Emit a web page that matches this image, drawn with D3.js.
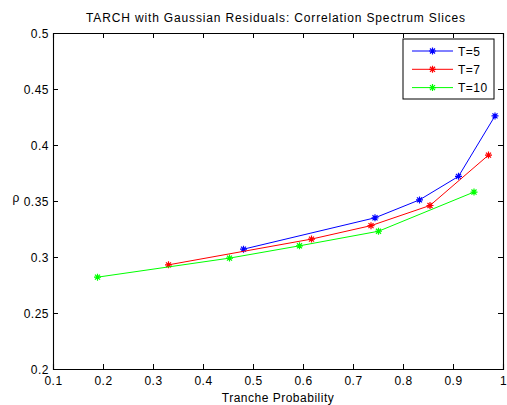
<!DOCTYPE html>
<html>
<head>
<meta charset="utf-8">
<script src="https://cdn.jsdelivr.net/npm/d3@7"></script>
<style>
  body { margin: 0; background: #fff; }
  text { font-family: "Liberation Sans", Arial, sans-serif; }
</style>
</head>
<body>
<div id="chart"></div>
<script>
// Data
var seriesNames = ['T=5', 'T=7', 'T=10'];
var seriesColors = ['#0000ff', '#ff0000', '#00ff00'];
var probT5 = [0.481, 0.744, 0.833, 0.911, 0.984];
var rhoT5 = [0.307, 0.335, 0.351, 0.372, 0.426];
var probT7 = [0.331, 0.617, 0.736, 0.854, 0.971];
var rhoT7 = [0.293, 0.316, 0.328, 0.346, 0.391];
var probT10 = [0.189, 0.453, 0.593, 0.751, 0.942];
var rhoT10 = [0.282, 0.299, 0.310, 0.323, 0.358];
var xTicks = [0.1, 0.2, 0.3, 0.4, 0.5, 0.6, 0.7, 0.8, 0.9, 1];
var yTicks = [0.2, 0.25, 0.3, 0.35, 0.4, 0.45, 0.5];

var width = 507, height = 405,
    margin = {top: 33, right: 4, bottom: 36, left: 53},
    plotW = width - margin.left - margin.right,
    plotH = height - margin.top - margin.bottom;

var series = [
    {name: seriesNames[0], color: seriesColors[0], x: probT5, y: rhoT5},
    {name: seriesNames[1], color: seriesColors[1], x: probT7, y: rhoT7},
    {name: seriesNames[2], color: seriesColors[2], x: probT10, y: rhoT10}
];

var svg = d3.select('#chart').append('svg')
    .attr('width', width)
    .attr('height', height);

var g = svg.append('g')
    .attr('transform', 'translate(' + margin.left + ',' + margin.top + ')');

var x = d3.scaleLinear().domain([0.1, 1]).range([0, plotW]);
var y = d3.scaleLinear().domain([0.2, 0.5]).range([plotH, 0]);

// Asterisk marker path
function star(r) {
    var d = r * 0.72;
    return 'M' + (-r) + ',0L' + r + ',0M0,' + (-r) + 'L0,' + r +
        'M' + (-d) + ',' + (-d) + 'L' + d + ',' + d +
        'M' + (-d) + ',' + d + 'L' + d + ',' + (-d);
}

var line = d3.line()
    .x(function (d) { return x(d[0]); })
    .y(function (d) { return y(d[1]); });

series.forEach(function (s) {
    var pts = s.x.map(function (v, i) { return [v, s.y[i]]; });
    g.append('path')
        .datum(pts)
        .attr('fill', 'none')
        .attr('stroke', s.color)
        .attr('stroke-width', 1)
        .attr('d', line);
    g.selectAll(null)
        .data(pts)
        .enter().append('path')
        .attr('transform', function (d) { return 'translate(' + x(d[0]) + ',' + y(d[1]) + ')'; })
        .attr('d', star(3.5))
        .attr('stroke', s.color)
        .attr('stroke-width', 1.2)
        .attr('fill', 'none');
});

// Axes (ticks point inwards, on all four sides)
var tickFmt = function (d) { return d3.format('')(+d.toFixed(2)); };

var xAxis = g.append('g')
    .attr('transform', 'translate(0,' + plotH + ')')
    .call(d3.axisBottom(x).tickValues(xTicks).tickSize(-5).tickPadding(7).tickFormat(tickFmt));
var xTop = g.append('g')
    .call(d3.axisTop(x).tickValues(xTicks).tickSize(-5).tickFormat(''));
var yAxis = g.append('g')
    .call(d3.axisLeft(y).tickValues(yTicks).tickSize(-5).tickPadding(4).tickFormat(tickFmt));
var yRight = g.append('g')
    .attr('transform', 'translate(' + plotW + ',0)')
    .call(d3.axisRight(y).tickValues(yTicks).tickSize(-5).tickFormat(''));

[xAxis, xTop, yAxis, yRight].forEach(function (a) {
    a.select('.domain').attr('stroke', '#000').attr('stroke-width', 1.1);
    a.selectAll('.tick line').attr('stroke', '#000');
    a.selectAll('.tick text')
        .attr('fill', '#000')
        .style('font-family', '"Liberation Sans", Arial, sans-serif')
        .style('font-size', '12px')
        .style('letter-spacing', '0.5px');
});
// drop the ticks that sit on the box corners
[xAxis, xTop].forEach(function (a) {
    a.selectAll('.tick line').filter(function (d) { return d === 0.1 || d === 1; }).remove();
});
[yAxis, yRight].forEach(function (a) {
    a.selectAll('.tick line').filter(function (d) { return d === 0.2 || d === 0.5; }).remove();
});
yAxis.selectAll('.tick text').attr('dy', '0.34em');

// Titles
svg.append('text')
    .attr('x', margin.left + plotW / 2 - 2)
    .attr('y', 22)
    .attr('text-anchor', 'middle')
    .attr('font-size', '12px')
    .style('letter-spacing', '0.85px')
    .text('TARCH with Gaussian Residuals: Correlation Spectrum Slices');

svg.append('text')
    .attr('x', margin.left + plotW / 2)
    .attr('y', 402)
    .attr('text-anchor', 'middle')
    .attr('font-size', '12px')
    .style('letter-spacing', '0.5px')
    .text('Tranche Probability');

svg.append('text')
    .attr('x', 16)
    .attr('y', 202)
    .attr('text-anchor', 'middle')
    .attr('font-size', '12px')
    .text('ρ');

// Legend
var legend = svg.append('g').attr('transform', 'translate(403,39)');
legend.append('rect')
    .attr('width', 91)
    .attr('height', 60)
    .attr('fill', '#fff')
    .attr('stroke', '#000')
    .attr('stroke-width', 1);

series.forEach(function (s, i) {
    var row = legend.append('g').attr('transform', 'translate(0,' + (12 + i * 18.3) + ')');
    row.append('line')
        .attr('x1', 9).attr('x2', 50)
        .attr('stroke', s.color).attr('stroke-width', 1);
    row.append('path')
        .attr('transform', 'translate(29.5,0)')
        .attr('d', star(3.5))
        .attr('stroke', s.color)
        .attr('stroke-width', 1.2);
    row.append('text')
        .attr('x', 55)
        .attr('y', 4.5)
        .attr('font-size', '12px')
        .style('letter-spacing', '0.5px')
        .text(s.name);
});
</script>
</body>
</html>
